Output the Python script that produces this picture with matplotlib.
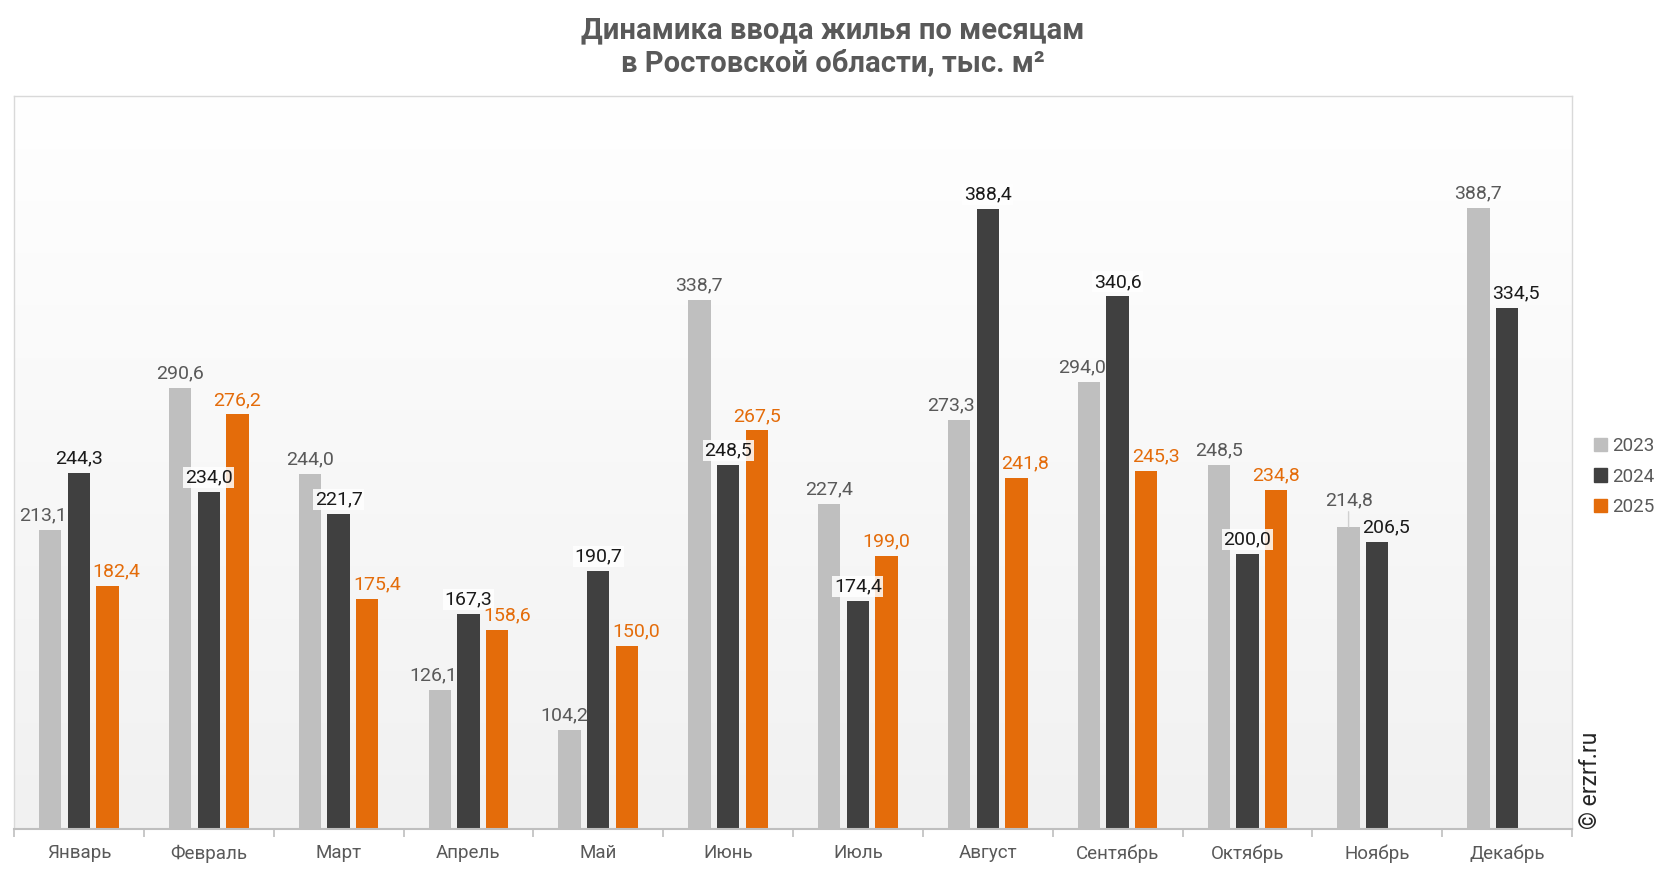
import numpy as np
import matplotlib
matplotlib.use('Agg')
import matplotlib.pyplot as plt
from matplotlib.patches import Patch
from matplotlib.colors import LinearSegmentedColormap

plt.rcParams['font.family'] = ['Roboto', 'DejaVu Sans']

# data
months = ['Январь', 'Февраль', 'Март', 'Апрель', 'Май', 'Июнь',
          'Июль', 'Август', 'Сентябрь', 'Октябрь', 'Ноябрь', 'Декабрь']
y2023 = [213.1, 290.6, 244.0, 126.1, 104.2, 338.7, 227.4, 273.3, 294.0, 248.5, 214.8, 388.7]
y2024 = [244.3, 234.0, 221.7, 167.3, 190.7, 248.5, 174.4, 388.4, 340.6, 200.0, 206.5, 334.5]
y2025 = [182.4, 276.2, 175.4, 158.6, 150.0, 267.5, 199.0, 241.8, 245.3, 234.8]
years = ['2023', '2024', '2025']

colors = ['#BFBFBF', '#404040', '#E46C0A']
label_colors = ['#595959', '#1A1A1A', '#E46C0A']
ymin, ymax = 50, 450

# label nudges (points) where excel moved labels to avoid overlap
nudge = {(0, 0): -5.5, (0, 2): 6.5, (2, 2): 7, (3, 0): -4.5, (3, 2): 7.5,
         (4, 0): -4, (4, 2): 7, (7, 0): -6, (7, 2): 6.5, (8, 0): -5, (8, 2): 7,
         (10, 1): 6.5, (11, 1): 6.5}
lift = {(10, 0): 9}
no_box = {(0, 1), (10, 1), (11, 1)}

fig = plt.figure(figsize=(16.66, 8.72), dpi=100)
ax = fig.add_axes([0.0084, 0.0493, 0.9352, 0.8406])

# background gradient white -> light gray
grad = np.linspace(1, 0, 256).reshape(-1, 1)
cmap = LinearSegmentedColormap.from_list('bg', ['#F1F1F1', '#FFFFFF'])
ax.imshow(grad, extent=[-0.5, 11.5, ymin, ymax], aspect='auto',
          cmap=cmap, origin='upper', zorder=0)

x = np.arange(len(months))
w = 0.172
step = 0.221
series = [y2023, y2024, y2025]
for i, vals in enumerate(series):
    xs = x[:len(vals)] + (i - 1) * step
    ax.bar(xs, np.array(vals) - ymin, bottom=ymin, width=w, color=colors[i],
           edgecolor='none', zorder=2)
    for k, (xi, v) in enumerate(zip(xs, vals)):
        txt = f'{v:.1f}'.replace('.', ',')
        kw = {}
        if i == 1 and (k, i) not in no_box:
            kw['bbox'] = dict(boxstyle='square,pad=0.08', fc='white', ec='none', alpha=0.85)
        if (k, i) in lift:
            kw['arrowprops'] = dict(arrowstyle='-', color='#D0D0D0', lw=1,
                                    shrinkA=0, shrinkB=0)
        ax.annotate(txt, (xi, v),
                    xytext=(nudge.get((k, i), 0), 4 + lift.get((k, i), 0)),
                    textcoords='offset points', ha='center', va='bottom',
                    fontsize=14, color=label_colors[i], zorder=3, **kw)

ax.set_xlim(-0.5, 11.5)
ax.set_ylim(ymin, ymax)
ax.set_yticks([])
ax.set_xticks(x)
ax.set_xticklabels(months, fontsize=13.5, color='#595959')
ax.tick_params(axis='x', which='major', length=0, pad=11)
ax.set_xticks(np.arange(-0.5, 12, 1), minor=True)
ax.tick_params(axis='x', which='minor', length=6, color='#BFBFBF', width=1.2)

for s in ['left', 'top', 'right']:
    ax.spines[s].set_color('#D9D9D9')
    ax.spines[s].set_linewidth(1)
ax.spines['bottom'].set_color('#BFBFBF')
ax.spines['bottom'].set_linewidth(1.5)

fig.text(0.5, 0.981, 'Динамика ввода жилья по месяцам\nв Ростовской области, тыс. м²',
         ha='center', va='top', fontsize=21, fontweight='bold', color='#595959',
         linespacing=1.22)

handles = [Patch(color=c) for c in colors]
fig.legend(handles, years, loc='upper left', bbox_to_anchor=(0.952, 0.507),
           frameon=False, fontsize=13.5, handlelength=0.7, handleheight=0.7,
           handletextpad=0.3, labelspacing=0.65, labelcolor='#595959',
           borderaxespad=0)

fig.text(0.9545, 0.049, '© erzrf.ru', rotation=90, ha='center', va='bottom',
         fontsize=16.5, color='#262626')

plt.savefig('out.png', dpi=100)
